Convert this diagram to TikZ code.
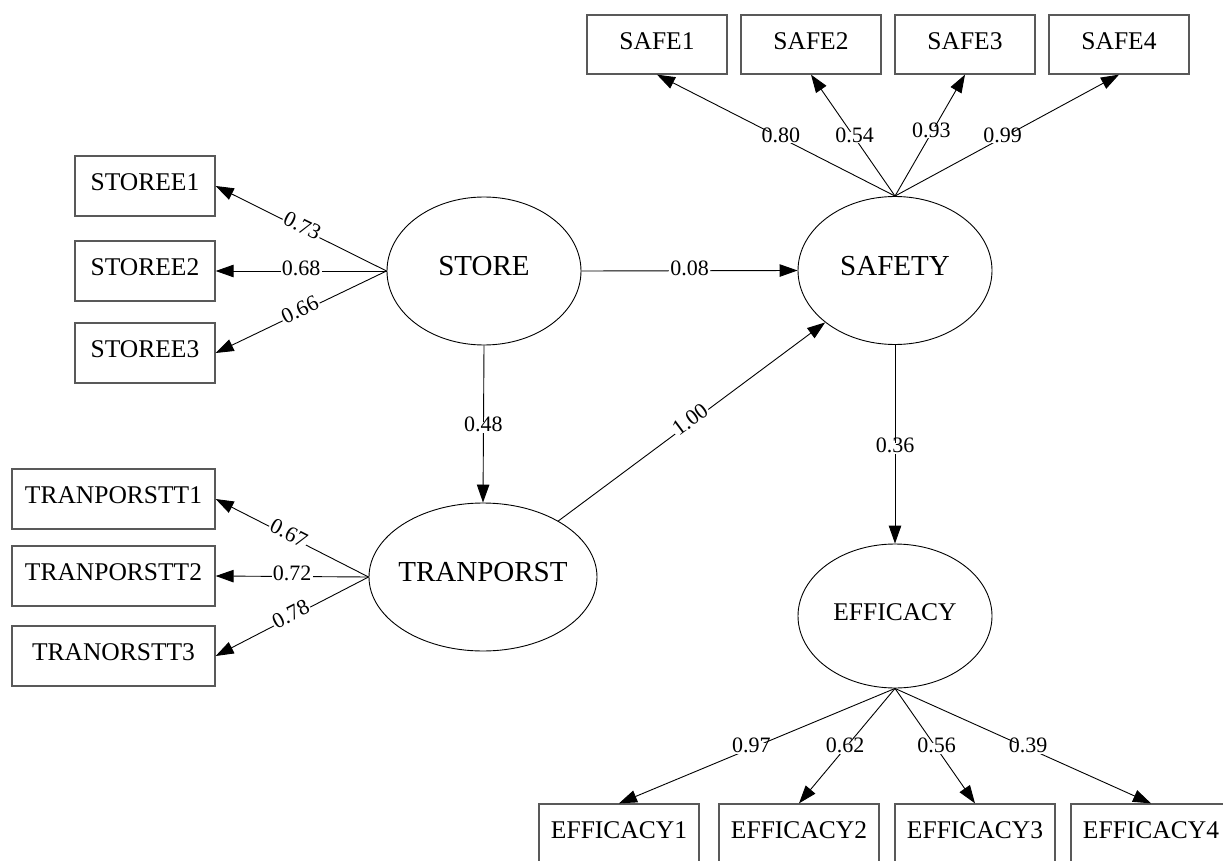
\documentclass[tikz,border=0pt]{standalone}
\usepackage{fontspec}
\setmainfont{Liberation Serif}
\usetikzlibrary{shapes.geometric,arrows.meta}

\begin{document}
\begin{tikzpicture}[x=1pt,y=-1pt,
  obs/.style={draw=black!65, line width=1.3pt, rectangle, minimum height=60pt,
    inner sep=0pt, font=\fontsize{25.5}{30}\selectfont, text height=0.98em, text depth=0pt},
  lat/.style={draw=black, line width=0.9pt, ellipse, inner sep=0pt,
    minimum width=194pt, minimum height=148pt},
  lattext/.style={font=\fontsize{29}{34}\selectfont, text height=0.98em, text depth=0pt, inner sep=0pt},
  conn/.style={line width=0.9pt, -{Triangle[length=18pt,width=12.5pt]}},
  coef/.style={fill=white, inner sep=1.2pt, font=\fontsize{22}{26}\selectfont,
    text height=0.85em, text depth=0pt}
]
\useasboundingbox (0,0) rectangle (1223,861);
\clip (0,0) rectangle (1223,861);

% latent variables
\node[lat, label={[lattext]center:STORE}] (st) at (484,271) {};
\node[lat, label={[lattext]center:SAFETY}] (sf) at (895,270.5) {};
\node[lat, minimum width=228pt, label={[lattext]center:TRANPORST}] (tr) at (483,577) {};
\node[lat, minimum height=144pt,
  label={[lattext,font=\fontsize{25.5}{30}\selectfont]center:EFFICACY}] (ef) at (895,616) {};

% indicators of STORE
\node[obs, minimum width=140pt] (s1) at (145,186) {STOREE1};
\node[obs, minimum width=140pt] (s2) at (145,271) {STOREE2};
\node[obs, minimum width=140pt] (s3) at (145,353) {STOREE3};

% indicators of TRANPORST
\node[obs, minimum width=203pt] (t1) at (113.5,499) {TRANPORSTT1};
\node[obs, minimum width=203pt] (t2) at (113.5,576) {TRANPORSTT2};
\node[obs, minimum width=203pt] (t3) at (113.5,656) {TRANORSTT3};

% indicators of SAFETY
\node[obs, minimum width=140pt, minimum height=59pt] (a1) at (657,44.5) {SAFE1};
\node[obs, minimum width=140pt, minimum height=59pt] (a2) at (811,44.5) {SAFE2};
\node[obs, minimum width=140pt, minimum height=59pt] (a3) at (965,44.5) {SAFE3};
\node[obs, minimum width=140pt, minimum height=59pt] (a4) at (1119,44.5) {SAFE4};

% indicators of EFFICACY
\node[obs, minimum width=160pt] (e1) at (619,834) {EFFICACY1};
\node[obs, minimum width=160pt] (e2) at (799,834) {EFFICACY2};
\node[obs, minimum width=160pt] (e3) at (975,834) {EFFICACY3};
\node[obs, minimum width=160pt] (e4) at (1151,834) {EFFICACY4};

% loadings
\draw[conn] (st.west) -- node[coef, sloped]{0.73} (s1.east);
\draw[conn] (st.west) -- node[coef]{0.68} (s2.east);
\draw[conn] (st.west) -- node[coef, sloped]{0.66} (s3.east);

\draw[conn] (tr.west) -- node[coef, sloped, pos=0.53]{0.67} (t1.east);
\draw[conn] (tr.west) -- node[coef, pos=0.5]{0.72} (t2.east);
\draw[conn] (tr.west) -- node[coef, sloped, pos=0.5]{0.78} (t3.east);

\draw[conn] (sf.north) -- node[coef, pos=0.48]{0.80} (a1.south);
\draw[conn] (sf.north) -- node[coef, pos=0.48]{0.54} (a2.south);
\draw[conn] (sf.north) -- node[coef, pos=0.52]{0.93} (a3.south);
\draw[conn] (sf.north) -- node[coef, pos=0.48]{0.99} (a4.south);

\draw[conn] (ef.south) -- node[coef, pos=0.52]{0.97} (e1.north);
\draw[conn] (ef.south) -- node[coef, pos=0.52]{0.62} (e2.north);
\draw[conn] (ef.south) -- node[coef, pos=0.52]{0.56} (e3.north);
\draw[conn] (ef.south) -- node[coef, pos=0.52]{0.39} (e4.north);

% structural paths
\draw[conn] (st.east) -- node[coef]{0.08} (sf.west);
\draw[conn] (st.south) -- node[coef, pos=0.52]{0.48} (tr.north);
\draw[conn] (tr) -- node[coef, sloped]{1.00} (sf);
\draw[conn] (sf.south) -- node[coef, pos=0.52]{0.36} (ef.north);
\end{tikzpicture}
\end{document}
